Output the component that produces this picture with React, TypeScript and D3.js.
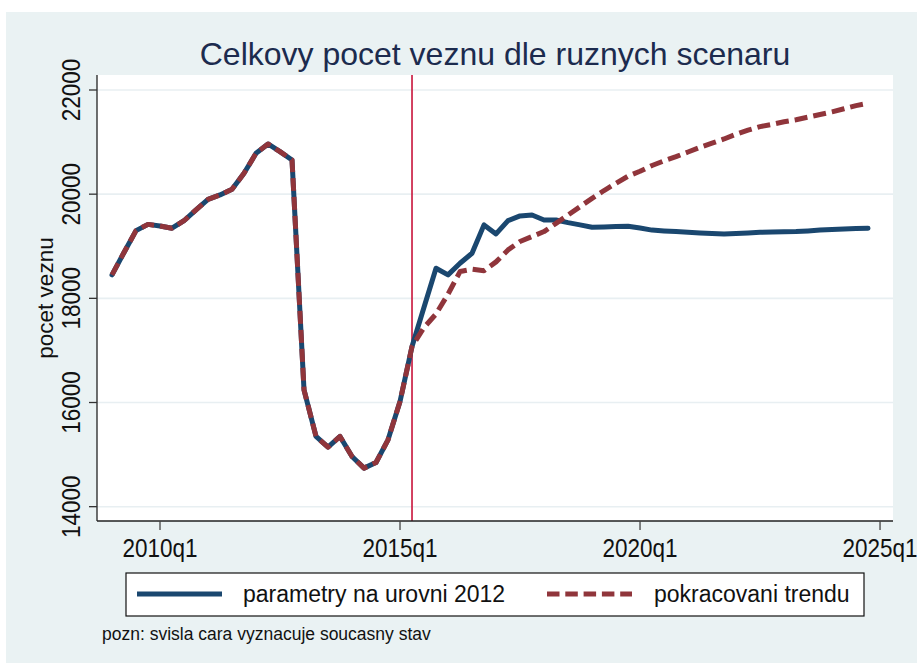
import React from 'react';
import * as d3 from 'd3';

const START_YEAR = 2009; // first observation: 2009q1

// parametry na urovni 2012 (quarterly, 2009q1 .. 2024q4)
const parametry2012 = [
  18450, 18880, 19300, 19420,
  19390, 19346, 19490, 19700,
  19900, 19985, 20094, 20400,
  20785, 20964, 20816, 20657,
  16243, 15348, 15143, 15348,
  14964, 14740, 14848, 15284,
  16020, 17074, 17830, 18578,
  18450, 18674, 18866, 19410,
  19237, 19492, 19582, 19601,
  19505, 19505, 19454, 19410,
  19365, 19370, 19380, 19385,
  19350, 19310, 19295, 19282,
  19270, 19255, 19245, 19237,
  19245, 19255, 19268, 19272,
  19278, 19282, 19295, 19310,
  19320, 19332, 19340, 19346,
];

// pokracovani trendu (quarterly, 2009q1 .. 2024q4)
const pokracovaniTrendu = [
  18450, 18880, 19300, 19420,
  19390, 19346, 19490, 19700,
  19900, 19985, 20094, 20400,
  20785, 20964, 20816, 20657,
  16243, 15348, 15143, 15348,
  14964, 14740, 14848, 15284,
  16020, 17074, 17440, 17700,
  18080, 18514, 18560, 18530,
  18700, 18930, 19090, 19186,
  19282, 19440, 19600, 19760,
  19920, 20070, 20210, 20345,
  20440, 20550, 20640, 20720,
  20810, 20900, 20980, 21060,
  21150, 21230, 21296, 21340,
  21390, 21430, 21480, 21530,
  21580, 21640, 21700, 21745,
];

const xTickLabels = ['2010q1', '2015q1', '2020q1', '2025q1'];
const yTicks = [14000, 16000, 18000, 20000, 22000];
const currentState = '2015q2';
const seriesNames = ['parametry na urovni 2012', 'pokracovani trendu'];
const titleText = 'Celkovy pocet veznu dle ruznych scenaru';
const yTitle = 'pocet veznu';
const noteText = 'pozn: svisla cara vyznacuje soucasny stav';

const quarterIndex = (label: string) => {
  const [y, q] = label.split('q').map(Number);
  return (y - START_YEAR) * 4 + (q - 1);
};

const W = 917;
const H = 666;
const plot = { left: 97, right: 893, top: 75, bottom: 521 };

const BLUE = '#1a476f';
const RED = '#90353b';
const BG = '#eaf2f3';
const FONT = '"Liberation Sans", Arial, sans-serif';

export default function App() {
  const x = d3.scaleLinear().domain([-1.25, 65.08]).range([plot.left, plot.right]);
  const y = d3.scaleLinear().domain([13725, 22288]).range([plot.bottom, plot.top]);

  const line = d3
    .line<number>()
    .x((_, i) => x(i))
    .y((d) => y(d));

  const xCur = x(quarterIndex(currentState));

  return (
    <svg
      width={W}
      height={H}
      style={{ position: 'absolute', left: 0, top: 0, fontFamily: FONT }}
    >
      <rect x={0} y={0} width={W} height={H} fill="#ffffff" />
      <rect x={6} y={12} width={W - 6} height={651} fill={BG} />
      <rect
        x={plot.left}
        y={plot.top}
        width={plot.right - plot.left}
        height={plot.bottom - plot.top}
        fill="#ffffff"
      />
      {/* gridlines */}
      {yTicks.map((t) => (
        <line
          key={'g' + t}
          x1={plot.left}
          x2={plot.right}
          y1={y(t)}
          y2={y(t)}
          stroke="#e8eff2"
          strokeWidth={1.6}
        />
      ))}
      {/* title */}
      <text x={495} y={65} textAnchor="middle" fontSize={32} fill="#1c2b4e">
        {titleText}
      </text>
      {/* current state line */}
      <line x1={xCur} x2={xCur} y1={plot.top} y2={plot.bottom} stroke="#c8133a" strokeWidth={1.6} />
      {/* series */}
      <path
        d={line(parametry2012) || ''}
        fill="none"
        stroke={BLUE}
        strokeWidth={5}
        strokeLinejoin="round"
        strokeLinecap="round"
      />
      <path
        d={line(pokracovaniTrendu) || ''}
        fill="none"
        stroke={RED}
        strokeWidth={5}
        strokeDasharray="13 6"
        strokeLinejoin="round"
      />
      {/* axes */}
      <line x1={plot.left} x2={plot.left} y1={plot.top} y2={plot.bottom} stroke="#222" strokeWidth={1.3} />
      <line x1={plot.left} x2={plot.right} y1={plot.bottom} y2={plot.bottom} stroke="#222" strokeWidth={1.3} />
      {yTicks.map((t) => (
        <g key={'yt' + t}>
          <line x1={plot.left - 8} x2={plot.left} y1={y(t)} y2={y(t)} stroke="#333" strokeWidth={1.3} />
          <text
            transform={`translate(80,${y(t)}) rotate(-90) scale(0.9,1)`}
            textAnchor="middle"
            fontSize={25}
            fill="#111"
          >
            {t}
          </text>
        </g>
      ))}
      {xTickLabels.map((lab) => {
        const xv = x(quarterIndex(lab));
        return (
          <g key={lab}>
            <line x1={xv} x2={xv} y1={plot.bottom} y2={plot.bottom + 9} stroke="#444" strokeWidth={1.3} />
            <text
              transform={`translate(${xv},557) scale(0.9,1)`}
              textAnchor="middle"
              fontSize={25}
              fill="#111"
            >
              {lab}
            </text>
          </g>
        );
      })}
      <text
        transform={`translate(53,${(plot.top + plot.bottom) / 2}) rotate(-90)`}
        textAnchor="middle"
        fontSize={22.5}
        fill="#111"
      >
        {yTitle}
      </text>
      {/* legend */}
      <rect x={126} y={573} width={738} height={43} fill="#ffffff" stroke="#111" strokeWidth={1.2} />
      <line x1={137} x2={222} y1={594} y2={594} stroke={BLUE} strokeWidth={5} />
      <text x={243} y={602} fontSize={23} fill="#111">
        {seriesNames[0]}
      </text>
      <line x1={547} x2={632} y1={594} y2={594} stroke={RED} strokeWidth={5} strokeDasharray="12.5 5.8" />
      <text x={654} y={602} fontSize={23} fill="#111">
        {seriesNames[1]}
      </text>
      {/* note */}
      <text x={102} y={640} fontSize={17.5} fill="#111">
        {noteText}
      </text>
    </svg>
  );
}
